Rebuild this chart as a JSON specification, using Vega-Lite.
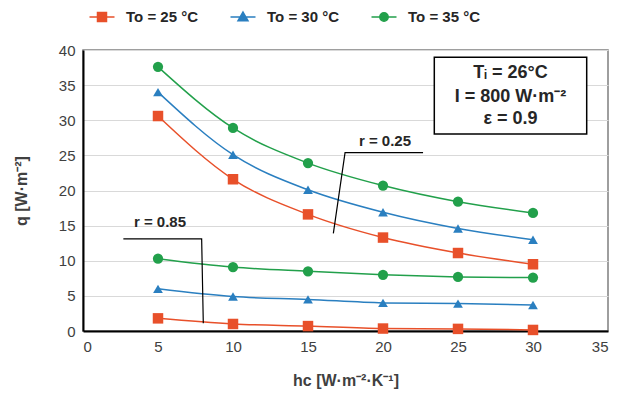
{
  "$schema": "https://vega.github.io/schema/vega-lite/v6.json",
  "width": 525,
  "height": 281,
  "autosize": {"type": "none"},
  "padding": {"left": 83, "top": 50, "right": 19, "bottom": 72},
  "background": "white",
  "config": {
    "font": "Liberation Sans",
    "view": {"stroke": "#7f7f7f", "strokeWidth": 1.5},
    "axis": {"labelFont": "Liberation Sans", "labelFontSize": 15, "labelColor": "#404040", "titleFont": "Liberation Sans", "titleFontSize": 16, "titleColor": "#404040", "titleFontWeight": "bold", "domainColor": "black", "domainWidth": 2, "ticks": false, "labelPadding": 8, "labelOverlap": false}
  },
  "datasets": {
    "curves": [
      {"hc": 5, "q": 30.6, "To": "To = 25 °C", "r": "0.25"},
      {"hc": 10, "q": 21.6, "To": "To = 25 °C", "r": "0.25"},
      {"hc": 15, "q": 16.6, "To": "To = 25 °C", "r": "0.25"},
      {"hc": 20, "q": 13.3, "To": "To = 25 °C", "r": "0.25"},
      {"hc": 25, "q": 11.1, "To": "To = 25 °C", "r": "0.25"},
      {"hc": 30, "q": 9.5, "To": "To = 25 °C", "r": "0.25"},
      {"hc": 5, "q": 34.0, "To": "To = 30 °C", "r": "0.25"},
      {"hc": 10, "q": 25.1, "To": "To = 30 °C", "r": "0.25"},
      {"hc": 15, "q": 20.1, "To": "To = 30 °C", "r": "0.25"},
      {"hc": 20, "q": 16.9, "To": "To = 30 °C", "r": "0.25"},
      {"hc": 25, "q": 14.6, "To": "To = 30 °C", "r": "0.25"},
      {"hc": 30, "q": 13.0, "To": "To = 30 °C", "r": "0.25"},
      {"hc": 5, "q": 37.6, "To": "To = 35 °C", "r": "0.25"},
      {"hc": 10, "q": 28.9, "To": "To = 35 °C", "r": "0.25"},
      {"hc": 15, "q": 23.9, "To": "To = 35 °C", "r": "0.25"},
      {"hc": 20, "q": 20.7, "To": "To = 35 °C", "r": "0.25"},
      {"hc": 25, "q": 18.4, "To": "To = 35 °C", "r": "0.25"},
      {"hc": 30, "q": 16.8, "To": "To = 35 °C", "r": "0.25"},
      {"hc": 5, "q": 1.8, "To": "To = 25 °C", "r": "0.85"},
      {"hc": 10, "q": 1.0, "To": "To = 25 °C", "r": "0.85"},
      {"hc": 15, "q": 0.7, "To": "To = 25 °C", "r": "0.85"},
      {"hc": 20, "q": 0.35, "To": "To = 25 °C", "r": "0.85"},
      {"hc": 25, "q": 0.3, "To": "To = 25 °C", "r": "0.85"},
      {"hc": 30, "q": 0.15, "To": "To = 25 °C", "r": "0.85"},
      {"hc": 5, "q": 6.0, "To": "To = 30 °C", "r": "0.85"},
      {"hc": 10, "q": 4.9, "To": "To = 30 °C", "r": "0.85"},
      {"hc": 15, "q": 4.5, "To": "To = 30 °C", "r": "0.85"},
      {"hc": 20, "q": 4.0, "To": "To = 30 °C", "r": "0.85"},
      {"hc": 25, "q": 3.9, "To": "To = 30 °C", "r": "0.85"},
      {"hc": 30, "q": 3.7, "To": "To = 30 °C", "r": "0.85"},
      {"hc": 5, "q": 10.3, "To": "To = 35 °C", "r": "0.85"},
      {"hc": 10, "q": 9.1, "To": "To = 35 °C", "r": "0.85"},
      {"hc": 15, "q": 8.5, "To": "To = 35 °C", "r": "0.85"},
      {"hc": 20, "q": 8.0, "To": "To = 35 °C", "r": "0.85"},
      {"hc": 25, "q": 7.7, "To": "To = 35 °C", "r": "0.85"},
      {"hc": 30, "q": 7.6, "To": "To = 35 °C", "r": "0.85"}
    ],
    "leaders": [
      {"hc": 22.67, "q": 25.4, "grp": "a", "seq": 1},
      {"hc": 17.47, "q": 25.4, "grp": "a", "seq": 2},
      {"hc": 16.69, "q": 13.9, "grp": "a", "seq": 3},
      {"hc": 2.69, "q": 13.1, "grp": "b", "seq": 1},
      {"hc": 7.91, "q": 13.1, "grp": "b", "seq": 2},
      {"hc": 8.02, "q": 1.1, "grp": "b", "seq": 3}
    ],
    "labels": [
      {"hc": 20.13, "q": 27.1, "txt": "r = 0.25"},
      {"hc": 5.13, "q": 15.56, "txt": "r = 0.85"}
    ],
    "box": [{"hc": 23.42, "hc2": 33.58, "q": 38.96, "q2": 28.04}],
    "boxtext": [
      {"hc": 28.5, "q": 36.7, "txt": "Tᵢ = 26°C"},
      {"hc": 28.5, "q": 33.35, "txt": "I = 800 W·m⁻²"},
      {"hc": 28.5, "q": 30.15, "txt": "ε = 0.9"}
    ]
  },
  "encoding": {
    "x": {"field": "hc", "type": "quantitative", "scale": {"domain": [0, 35], "nice": false}, "axis": {"tickCount": 7, "grid": false, "title": "hc [W·m⁻²·K⁻¹]", "titlePadding": 18}},
    "y": {"field": "q", "type": "quantitative", "scale": {"domain": [0, 40], "nice": false}, "axis": {"tickCount": 8, "tickMinStep": 5, "grid": true, "gridColor": "#d9d9d9", "gridWidth": 1.2, "title": "q [W·m⁻²]", "titlePadding": 29}}
  },
  "layer": [
    {
      "data": {"name": "curves"},
      "mark": {"type": "line", "interpolate": "monotone", "strokeWidth": 1.5},
      "encoding": {
        "color": {"field": "To", "type": "nominal", "scale": {"domain": ["To = 25 °C", "To = 30 °C", "To = 35 °C"], "range": ["#e8502a", "#2a7fc0", "#22a04b"]},
          "legend": {"orient": "none", "direction": "horizontal", "legendX": 8, "legendY": -44, "title": null, "labelFontSize": 15, "labelFontWeight": "bold", "labelColor": "#262626", "labelFont": "Liberation Sans", "symbolSize": 400, "symbolStrokeWidth": 1.5, "labelOffset": 13, "columnPadding": 29,
            "encode": {"symbols": {"update": {
              "shape": {"signal": "datum.value == 'To = 25 °C' ? 'M-1.25,0H1.25M-0.45,-0.45H0.45V0.45H-0.45Z' : datum.value == 'To = 30 °C' ? 'M-1.25,0H1.25M0,-0.5L0.5,0.38H-0.5Z' : 'M-1.25,0H1.25M-0.42,0A0.42,0.42 0 1 0 0.42,0A0.42,0.42 0 1 0 -0.42,0Z'"},
              "fill": {"signal": "scale('color', datum.value)"},
              "stroke": {"signal": "scale('color', datum.value)"},
              "fillOpacity": {"value": 1},
              "strokeOpacity": {"value": 1}
            }}}}},
        "detail": {"field": "r"}
      }
    },
    {
      "data": {"name": "curves"},
      "transform": [{"filter": "datum.To == 'To = 25 °C'"}],
      "mark": {"type": "point", "shape": "square", "filled": true, "opacity": 1, "size": 110},
      "encoding": {"color": {"field": "To", "type": "nominal"}}
    },
    {
      "data": {"name": "curves"},
      "transform": [{"filter": "datum.To == 'To = 30 °C'"}],
      "mark": {"type": "point", "shape": "triangle-up", "filled": true, "opacity": 1, "size": 95},
      "encoding": {"color": {"field": "To", "type": "nominal"}}
    },
    {
      "data": {"name": "curves"},
      "transform": [{"filter": "datum.To == 'To = 35 °C'"}],
      "mark": {"type": "point", "shape": "circle", "filled": true, "opacity": 1, "size": 105},
      "encoding": {"color": {"field": "To", "type": "nominal"}}
    },
    {
      "data": {"name": "leaders"},
      "mark": {"type": "line", "color": "black", "strokeWidth": 1.2},
      "encoding": {
        "detail": {"field": "grp"},
        "order": {"field": "seq"}
      }
    },
    {
      "data": {"name": "labels"},
      "mark": {"type": "text", "fontSize": 15, "fontWeight": "bold", "color": "#262626", "font": "Liberation Sans"},
      "encoding": {"text": {"field": "txt"}}
    },
    {
      "data": {"name": "box"},
      "mark": {"type": "rect", "fill": "white", "stroke": "black", "strokeWidth": 1.5},
      "encoding": {
        "x2": {"field": "hc2"},
        "y2": {"field": "q2"}
      }
    },
    {
      "data": {"name": "boxtext"},
      "mark": {"type": "text", "fontSize": 18, "fontWeight": "bold", "color": "#262626", "font": "Liberation Sans"},
      "encoding": {"text": {"field": "txt"}}
    }
  ]
}
